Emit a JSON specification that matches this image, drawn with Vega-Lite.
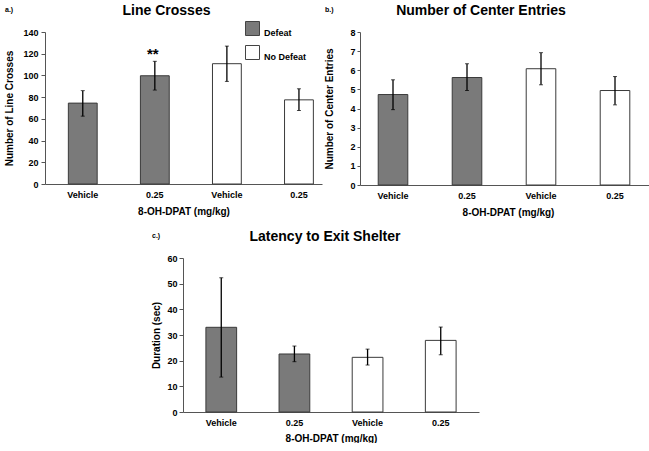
{
  "$schema": "https://vega.github.io/schema/vega-lite/v6.json",
  "padding": {"left": 4, "top": 4, "right": 0, "bottom": 0},
  "background": "white",
  "config": {
    "font": "Liberation Sans",
    "view": {"stroke": null},
    "axis": {"labelFont": "Liberation Sans", "labelFontWeight": "bold", "labelFontSize": 9, "labelColor": "#000", "titleFont": "Liberation Sans", "titleFontWeight": "bold", "titleFontSize": 10, "titleColor": "#000", "domainColor": "#555", "tickColor": "#555", "grid": false, "labelOverlap": false},
    "title": {"font": "Liberation Sans", "fontWeight": "bold", "color": "#000"},
    "legend": {"labelFont": "Liberation Sans", "labelFontWeight": "bold", "labelFontSize": 9, "labelColor": "#000"}
  },
  "datasets": {
    "lines": [
      {"grp": "D-Vehicle", "group": "Defeat", "mean": 74.5, "lo": 62.5, "hi": 86},
      {"grp": "D-0.25", "group": "Defeat", "mean": 99.7, "lo": 86.5, "hi": 113, "sig": "**"},
      {"grp": "ND-Vehicle", "group": "No Defeat", "mean": 110.8, "lo": 94.5, "hi": 127},
      {"grp": "ND-0.25", "group": "No Defeat", "mean": 77.5, "lo": 67.7, "hi": 87.7}
    ],
    "center": [
      {"grp": "D-Vehicle", "group": "Defeat", "mean": 4.73, "lo": 3.94, "hi": 5.5},
      {"grp": "D-0.25", "group": "Defeat", "mean": 5.62, "lo": 4.94, "hi": 6.34},
      {"grp": "ND-Vehicle", "group": "No Defeat", "mean": 6.08, "lo": 5.24, "hi": 6.92},
      {"grp": "ND-0.25", "group": "No Defeat", "mean": 4.94, "lo": 4.19, "hi": 5.67}
    ],
    "latency": [
      {"grp": "D-Vehicle", "group": "Defeat", "mean": 33.0, "lo": 13.6, "hi": 52.3},
      {"grp": "D-0.25", "group": "Defeat", "mean": 22.6, "lo": 19.6, "hi": 25.7},
      {"grp": "ND-Vehicle", "group": "No Defeat", "mean": 21.3, "lo": 18.3, "hi": 24.5},
      {"grp": "ND-0.25", "group": "No Defeat", "mean": 27.9, "lo": 22.3, "hi": 33.1}
    ],
    "empty": []
  },
  "spacing": 13,
  "vconcat": [
    {
      "spacing": 2,
      "hconcat": [
        {
          "title": {"text": "a.)", "anchor": "start", "fontSize": 7, "offset": -9},
          "vconcat": [
            {
              "width": 277,
              "height": 152,
              "title": {"text": "Line Crosses", "fontSize": 14, "offset": 10, "dx": -17},
              "data": {"name": "lines"},
              "encoding": {
                "x": {"field": "grp", "type": "nominal", "sort": ["D-Vehicle", "D-0.25", "ND-Vehicle", "ND-0.25"],
                  "scale": {"paddingInner": 0.6, "paddingOuter": 0.222, "align": 0.73},
                  "axis": {"title": "8-OH-DPAT (mg/kg)", "labelAngle": 0, "ticks": false, "labelPadding": 6, "titlePadding": 7, "labelExpr": "split(datum.label, '-')[1]"}}
              },
              "layer": [
                {
                  "mark": {"type": "bar", "stroke": "#3a3a3a", "strokeWidth": 1},
                  "encoding": {
                    "y": {"field": "mean", "type": "quantitative", "scale": {"domain": [0, 140]}, "title": "Number of Line Crosses",
                      "axis": {"values": [0, 20, 40, 60, 80, 100, 120, 140], "tickSize": 4, "labelPadding": 3, "titlePadding": 8}},
                    "color": {"field": "group", "type": "nominal", "scale": {"domain": ["Defeat", "No Defeat"], "range": ["#7a7a7a", "#ffffff"]},
                      "legend": {"title": null, "orient": "none", "legendX": 200, "legendY": -11, "symbolType": "square", "symbolSize": 196, "symbolStrokeColor": "#444", "symbolStrokeWidth": 1, "rowPadding": 5, "labelOffset": 4, "labelBaseline": "top"}}
                  }
                },
                {
                  "mark": {"type": "errorbar", "ticks": {"size": 4, "color": "#000"}, "rule": {"color": "#000", "strokeWidth": 1.3}},
                  "encoding": {"y": {"field": "lo", "type": "quantitative", "title": "Number of Line Crosses",
                      "axis": {"values": [0, 20, 40, 60, 80, 100, 120, 140], "tickSize": 4, "labelPadding": 3, "titlePadding": 8}}, "y2": {"field": "hi"}}
                },
                {
                  "transform": [{"filter": "isValid(datum.sig)"}],
                  "mark": {"type": "text", "fontSize": 15, "fontWeight": "bold", "baseline": "alphabetic", "dy": -2, "dx": -2},
                  "encoding": {"y": {"field": "hi", "type": "quantitative", "title": "Number of Line Crosses",
                      "axis": {"values": [0, 20, 40, 60, 80, 100, 120, 140], "tickSize": 4, "labelPadding": 3, "titlePadding": 8}}, "text": {"field": "sig"}}
                }
              ]
            }
          ]
        },
        {
          "title": {"text": "b.)", "anchor": "start", "fontSize": 7, "offset": -9},
          "vconcat": [
            {
              "width": 296,
              "height": 153,
              "title": {"text": "Number of Center Entries", "fontSize": 14, "offset": 10, "dx": -27},
              "data": {"name": "center"},
              "encoding": {
                "x": {"field": "grp", "type": "nominal", "sort": ["D-Vehicle", "D-0.25", "ND-Vehicle", "ND-0.25"],
                  "scale": {"paddingInner": 0.6, "paddingOuter": 0.3, "align": 0.41},
                  "axis": {"title": "8-OH-DPAT (mg/kg)", "labelAngle": 0, "ticks": false, "labelPadding": 6, "titlePadding": 7, "labelExpr": "split(datum.label, '-')[1]"}}
              },
              "layer": [
                {
                  "mark": {"type": "bar", "stroke": "#3a3a3a", "strokeWidth": 1},
                  "encoding": {
                    "y": {"field": "mean", "type": "quantitative", "scale": {"domain": [0, 8]}, "title": "Number of Center Entries",
                      "axis": {"values": [0, 1, 2, 3, 4, 5, 6, 7, 8], "tickSize": 3, "labelPadding": 2, "titlePadding": 15}},
                    "color": {"field": "group", "type": "nominal", "scale": {"domain": ["Defeat", "No Defeat"], "range": ["#7a7a7a", "#ffffff"]}, "legend": null}
                  }
                },
                {
                  "mark": {"type": "errorbar", "ticks": {"size": 4, "color": "#000"}, "rule": {"color": "#000", "strokeWidth": 1.3}},
                  "encoding": {"y": {"field": "lo", "type": "quantitative", "title": "Number of Center Entries",
                      "axis": {"values": [0, 1, 2, 3, 4, 5, 6, 7, 8], "tickSize": 3, "labelPadding": 2, "titlePadding": 15}}, "y2": {"field": "hi"}}
                }
              ]
            }
          ]
        }
      ]
    },
    {
      "spacing": 0,
      "hconcat": [
        {
          "width": 106,
          "height": 10,
          "data": {"name": "empty"},
          "mark": {"type": "text"},
          "encoding": {}
        },
        {
          "title": {"text": "c.)", "anchor": "start", "fontSize": 7, "offset": -9},
          "vconcat": [
            {
              "width": 296,
              "height": 154,
              "title": {"text": "Latency to Exit Shelter", "fontSize": 14, "offset": 10, "dx": -6},
              "data": {"name": "latency"},
              "encoding": {
                "x": {"field": "grp", "type": "nominal", "sort": ["D-Vehicle", "D-0.25", "ND-Vehicle", "ND-0.25"],
                  "scale": {"paddingInner": 0.58, "paddingOuter": 0.313, "align": 0.5},
                  "axis": {"title": "8-OH-DPAT (mg/kg)", "labelAngle": 0, "ticks": false, "labelPadding": 6, "titlePadding": 6, "labelExpr": "split(datum.label, '-')[1]"}}
              },
              "layer": [
                {
                  "mark": {"type": "bar", "stroke": "#3a3a3a", "strokeWidth": 1},
                  "encoding": {
                    "y": {"field": "mean", "type": "quantitative", "scale": {"domain": [0, 60]}, "title": "Duration (sec)",
                      "axis": {"values": [0, 10, 20, 30, 40, 50, 60], "tickSize": 4, "labelPadding": 2, "titlePadding": 5}},
                    "color": {"field": "group", "type": "nominal", "scale": {"domain": ["Defeat", "No Defeat"], "range": ["#7a7a7a", "#ffffff"]}, "legend": null}
                  }
                },
                {
                  "mark": {"type": "errorbar", "ticks": {"size": 4, "color": "#000"}, "rule": {"color": "#000", "strokeWidth": 1.3}},
                  "encoding": {"y": {"field": "lo", "type": "quantitative", "title": "Duration (sec)",
                      "axis": {"values": [0, 10, 20, 30, 40, 50, 60], "tickSize": 4, "labelPadding": 2, "titlePadding": 5}}, "y2": {"field": "hi"}}
                }
              ]
            }
          ]
        }
      ]
    }
  ]
}
